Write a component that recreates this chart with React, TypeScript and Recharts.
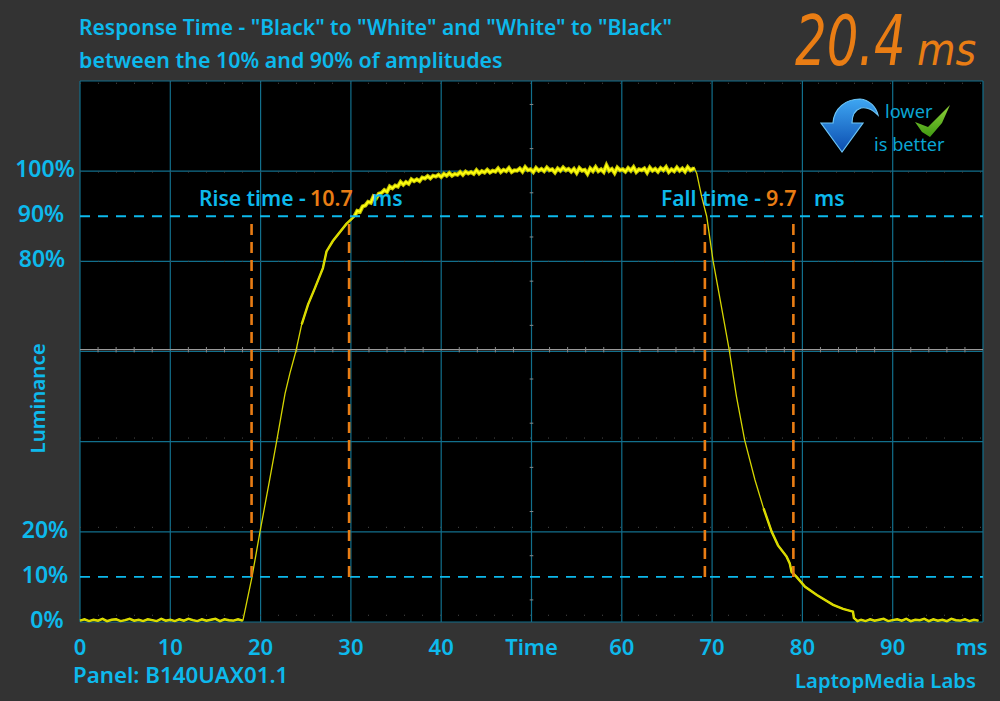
import React from 'react';
import { LineChart, Line, XAxis, YAxis, CartesianGrid, ReferenceLine } from 'recharts';

const FONT = '"Noto Sans", sans-serif';
const LCD_FONT = '"DejaVu Sans Condensed", "DejaVu Sans", sans-serif';
const BLUE = '#0db9ec';
const ORANGE = '#e97d14';
const GRID = '#126f8c';

const xTicks = [0, 10, 20, 30, 40, 50, 60, 70, 80, 90, 98.75];
const xTickLabels = ['0', '10', '20', '30', '40', 'Time', '60', '70', '80', '90', 'ms'];
const yTicks = [0, 10, 20, 80, 90, 100];
const yTickLabels = ['0%', '10%', '20%', '80%', '90%', '100%'];
const gridX = [0, 10, 20, 30, 40, 50, 60, 70, 80, 90, 100];
const gridY = [0, 20, 40, 60, 80, 100, 120];
const faintRows = [1.5, 21, 40.8, 80, 99.8, 119.5];
const minorX = [2, 4, 6, 8, 12, 14, 16, 18, 22, 24, 26, 28, 32, 34, 36, 38, 42, 44, 46, 48, 52, 54, 56, 58, 62, 64, 66, 68, 72, 74, 76, 78, 82, 84, 86, 88, 92, 94, 96, 98];
const minorY = [4.9, 14.7, 24.5, 34.3, 44.1, 53.9, 65.8, 75.6, 85.4, 95.2, 105, 114.8];
const riseMarks = [19, 29.8];
const fallMarks = [69.2, 79];
const levels = [10, 90];

const baseTimes = [0, 0.5, 1, 1.5, 2, 2.5, 3, 3.5, 4, 4.5, 5, 5.5, 6, 6.5, 7, 7.5, 8, 8.5, 9, 9.5, 10, 10.5, 11, 11.5, 12, 12.5, 13, 13.5, 14, 14.5, 15, 15.5, 16, 16.5, 17, 17.5, 18];
const baseValues = [0.3, 0.6, 0.2, 0.5, 0.3, 0.7, 0.2, 0.5, 0.6, 0.2, 0.4, 0.7, 0.3, 0.5, 0.2, 0.6, 0.4, 0.2, 0.7, 0.3, 0.5, 0.2, 0.6, 0.3, 0.7, 0.4, 0.2, 0.6, 0.3, 0.5, 0.7, 0.2, 0.6, 0.4, 0.3, 0.6, 0.3];

const riseTimes = [18.05, 19.05, 19.93, 21, 21.77, 22.7, 23.25, 23.9, 24.55, 25.25, 26, 26.9, 27.3, 28, 29.5];
const riseValues = [0.4, 10, 20, 31.5, 40, 50.6, 55.2, 60, 66, 70.4, 74, 78.5, 82.2, 84.5, 88.3];

const topTimes = [
  30.4, 30.7, 31.0, 31.3, 31.6, 31.9, 32.2, 32.5, 32.8, 33.1,
  33.4, 33.7, 34.0, 34.3, 34.6, 34.9, 35.2, 35.5, 35.8, 36.1,
  36.4, 36.7, 37.0, 37.3, 37.6, 37.9, 38.2, 38.5, 38.8, 39.1,
  39.4, 39.7, 40.0, 40.3, 40.6, 40.9, 41.2, 41.5, 41.8, 42.1,
  42.4, 42.7, 43.0, 43.3, 43.6, 43.9, 44.2, 44.5, 44.8, 45.1,
  45.4, 45.7, 46.0, 46.3, 46.6, 46.9, 47.2, 47.5, 47.8, 48.1,
  48.4, 48.7, 49.0, 49.3, 49.6, 49.9, 50.2, 50.5, 50.8, 51.1,
  51.4, 51.7, 52.0, 52.3, 52.6, 52.9, 53.2, 53.5, 53.8, 54.1,
  54.4, 54.7, 55.0, 55.3, 55.6, 55.9, 56.2, 56.5, 56.8, 57.1,
  57.4, 57.7, 58.0, 58.3, 58.6, 58.9, 59.2, 59.5, 59.8, 60.1,
  60.4, 60.7, 61.0, 61.3, 61.6, 61.9, 62.2, 62.5, 62.8, 63.1,
  63.4, 63.7, 64.0, 64.3, 64.6, 64.9, 65.2, 65.5, 65.8, 66.1,
  66.4, 66.7, 67.0, 67.3, 67.6, 67.9,
];
const topValues = [
  90.0, 91.2, 91.0, 92.2, 92.4, 93.2, 93.0, 94.4, 94.0, 95.0,
  95.2, 95.8, 95.4, 96.6, 96.2, 96.8, 96.6, 97.6, 97.0, 97.6,
  97.2, 98.2, 97.8, 98.2, 97.8, 98.6, 98.4, 98.9, 98.4, 99.0,
  98.8, 99.2, 98.7, 99.4, 99.0, 99.6, 99.0, 99.4, 99.2, 99.8,
  99.2, 99.9, 99.5, 99.8, 99.4, 100.2, 99.5, 100.0, 99.7, 100.3,
  99.7, 100.1, 99.9, 100.6, 99.8, 100.3, 100.0, 100.7, 99.8, 100.2,
  100.1, 100.6, 99.9, 100.9, 100.2, 100.4, 99.8, 100.7, 100.1, 100.5,
  100.0, 100.8, 100.2, 100.4, 99.7, 100.6, 100.1, 100.8, 100.2, 100.5,
  99.9, 100.5, 99.6, 100.7, 100.1, 100.3, 99.4, 100.6, 100.0, 100.9,
  100.0, 100.4, 99.8, 101.3, 100.1, 100.5, 99.6, 100.8, 100.2, 100.4,
  99.9, 100.7, 100.1, 100.9, 99.8, 100.4, 100.2, 100.6, 99.7, 100.8,
  100.1, 100.5, 99.9, 100.7, 100.2, 100.9, 99.8, 100.4, 100.0, 100.8,
  100.1, 100.6, 99.9, 100.9, 100.2, 100.5,
];

const fallTimes = [68.0, 68.3, 68.85, 69.4, 70.1, 70.9, 71.9, 72.7, 73.6, 74.75, 75.7, 76.6, 77.3, 78.25, 78.6, 78.8, 79.35, 80.3, 81.6, 83.4, 84.5, 85.6, 85.7, 86.1];
const fallValues = [100.8, 99.5, 94.3, 90, 80.2, 71.4, 60.3, 50, 40.4, 31.5, 25.2, 20, 17, 14.5, 13, 11.1, 10, 7.8, 6, 3.8, 2.9, 2.3, 0.9, 0.2];

const tailTimes = [86.5, 87, 87.5, 88, 88.5, 89, 89.5, 90, 90.5, 91, 91.5, 92, 92.5, 93, 93.5, 94, 94.5, 95, 95.5, 96, 96.5, 97, 97.5, 98, 98.5, 99, 99.5];
const tailValues = [0.5, 0.2, 0.6, 0.3, 0.5, 0.7, 0.2, 0.4, 0.6, 0.3, 0.7, 0.2, 0.5, 0.4, 0.7, 0.2, 0.6, 0.3, 0.5, 0.2, 0.7, 0.4, 0.3, 0.6, 0.2, 0.5, 0.3];

// stretches of the trace that the scope draws thicker, and the fuzzy top of the pulse
const thickRanges = [[0, 18], [24.5, 30.4], [75, 100]];
const fuzzRanges = [[30.4, 68]];

const inRanges = (time: number, ranges: number[][]) => ranges.some(([a, b]) => time >= a && time <= b);

const times = [...baseTimes, ...riseTimes, ...topTimes, ...fallTimes, ...tailTimes];
const values = [...baseValues, ...riseValues, ...topValues, ...fallValues, ...tailValues];
const chartData = times.map((time, i) => ({
  time,
  luminance: values[i],
  thick: inRanges(time, thickRanges) ? values[i] : undefined,
  fuzz: inRanges(time, fuzzRanges) ? values[i] : undefined,
}));

const text = (left: number, top: number, size = 21, color = BLUE, extra: React.CSSProperties = {}): React.CSSProperties => ({
  position: 'absolute',
  left,
  top,
  fontFamily: FONT,
  fontSize: size,
  fontWeight: 600,
  color,
  lineHeight: '28px',
  whiteSpace: 'nowrap',
  ...extra,
});

const yTickCentre: Record<number, number> = { 0: 47, 10: 45, 20: 45, 80: 42, 90: 41, 100: 45 };

const YTick = ({ y, payload }: any) => {
  const label = yTickLabels[yTicks.indexOf(payload.value)];
  return (
    <text x={yTickCentre[payload.value]} y={y + 6} textAnchor="middle" fill={BLUE} fontFamily={FONT} fontSize={23} fontWeight={600}>
      {label}
    </text>
  );
};

const Badge = () => (
  <svg style={{ position: 'absolute', left: 0, top: 0 }} width={1000} height={701}>
    <defs>
      <linearGradient id="arrowFill" x1="0" y1="0" x2="0" y2="1">
        <stop offset="0%" stopColor="#3ea6f2" />
        <stop offset="100%" stopColor="#0c4db0" />
      </linearGradient>
      <linearGradient id="checkFill" x1="0" y1="0" x2="0" y2="1">
        <stop offset="0%" stopColor="#8fd13a" />
        <stop offset="100%" stopColor="#3f9a12" />
      </linearGradient>
    </defs>
    <path
      d="M842 152 L821 123 L833 123 C834 108 846 99 860 99 C870 100 876 107 878 115 C872 109 866 107 861 108 C855 110 852 116 852 123 L863 123 Z"
      fill="url(#arrowFill)"
      stroke="#6cc4f5"
      strokeWidth={1.2}
    />
    <path d="M915 122 L928 127 L950 105 L942 123 L930 137 L922 132 Z" fill="url(#checkFill)" />
  </svg>
);

const App: React.FC = () => {
  return (
    <div style={{ position: 'absolute', left: 0, top: 0, width: 1000, height: 701, background: '#333333', overflow: 'hidden' }}>
      <LineChart width={1000} height={701} data={chartData} margin={{ top: 81, right: 17, bottom: 39, left: 0 }}>
        <CartesianGrid fill="#000000" stroke={GRID} strokeWidth={1.2} verticalValues={gridX} horizontalValues={gridY} />
        <XAxis
          dataKey="time"
          type="number"
          domain={[0, 100]}
          ticks={xTicks}
          interval={0}
          height={40}
          axisLine={false}
          tickLine={false}
          tickMargin={11}
          tick={{ fill: BLUE, fontFamily: FONT, fontSize: 22, fontWeight: 600 }}
          tickFormatter={(v: number) => xTickLabels[xTicks.indexOf(v)]}
        />
        <YAxis
          type="number"
          domain={[0, 120]}
          ticks={yTicks}
          interval={0}
          width={80}
          axisLine={false}
          tickLine={false}
          tick={<YTick />}
          label={{ value: 'Luminance', angle: -90, position: 'insideLeft', offset: 38, dy: 102, fill: BLUE, fontFamily: FONT, fontSize: 20.5, fontWeight: 600 }}
        />
        {faintRows.map((row) => (
          <ReferenceLine key={`row-${row}`} y={row} stroke="#4a4a4a" strokeDasharray="1 17" />
        ))}
        <ReferenceLine y={60.4} stroke="#9a9a9a" strokeWidth={1.2} />
        {minorX.map((x) => (
          <ReferenceLine key={`mx-${x}`} segment={[{ x, y: 59.8 }, { x, y: 61 }]} stroke="#8a8a8a" />
        ))}
        {minorY.map((y) => (
          <ReferenceLine key={`my-${y}`} segment={[{ x: 49.8, y }, { x: 50.2, y }]} stroke="#8a8a8a" />
        ))}
        <Line dataKey="fuzz" type="linear" stroke="#c4c400" strokeWidth={4} dot={false} activeDot={false} isAnimationActive={false} />
        <Line dataKey="thick" type="linear" stroke="#e6e600" strokeWidth={2.4} dot={false} activeDot={false} isAnimationActive={false} />
        <Line dataKey="luminance" type="linear" stroke="#d6d600" strokeWidth={1.3} dot={false} activeDot={false} isAnimationActive={false} />
        <Line dataKey="fuzz" type="linear" stroke="#ffff10" strokeWidth={1.8} dot={false} activeDot={false} isAnimationActive={false} />
        {levels.map((level) => (
          <ReferenceLine key={`level-${level}`} y={level} stroke={BLUE} strokeWidth={1.8} strokeDasharray="10 8" />
        ))}
        {[...riseMarks, ...fallMarks].map((x) => (
          <ReferenceLine key={`mark-${x}`} segment={[{ x, y: 10 }, { x, y: 89.4 }]} stroke={ORANGE} strokeWidth={2.6} strokeDasharray="11 7" />
        ))}
      </LineChart>

      <div style={text(79, 13)}>Response Time - "Black" to "White" and "White" to "Black"</div>
      <div style={text(79, 46, 21.4)}>between the 10% and 90% of amplitudes</div>

      <div style={text(199, 184)}>Rise time - </div>
      <div style={text(310, 184, 21.5, ORANGE)}>10.7</div>
      <div style={text(372, 184)}>ms</div>
      <div style={text(661, 184)}>Fall time - </div>
      <div style={text(766, 184, 21.5, ORANGE)}>9.7</div>
      <div style={text(814, 184)}>ms</div>

      <div style={text(73, 661, 22.3)}>Panel: B140UAX01.1</div>
      <div style={text(795, 666, 20.3)}>LaptopMedia Labs</div>

      <Badge />
      <div style={text(885, 97, 18.2, '#0aa5d2', { fontWeight: 400 })}>lower</div>
      <div style={text(874, 130, 18.2, '#0aa5d2', { fontWeight: 400 })}>is better</div>

      <div style={text(795, 6, 70, ORANGE, { lineHeight: '70px', fontWeight: 400, fontStyle: 'italic', fontFamily: LCD_FONT, transform: 'scaleX(0.79)', transformOrigin: 'left top' })}>20.4</div>
      <div style={text(917, 26, 44, ORANGE, { lineHeight: '48px', fontWeight: 400, fontStyle: 'italic', fontFamily: LCD_FONT })}>ms</div>
    </div>
  );
};

export default App;
